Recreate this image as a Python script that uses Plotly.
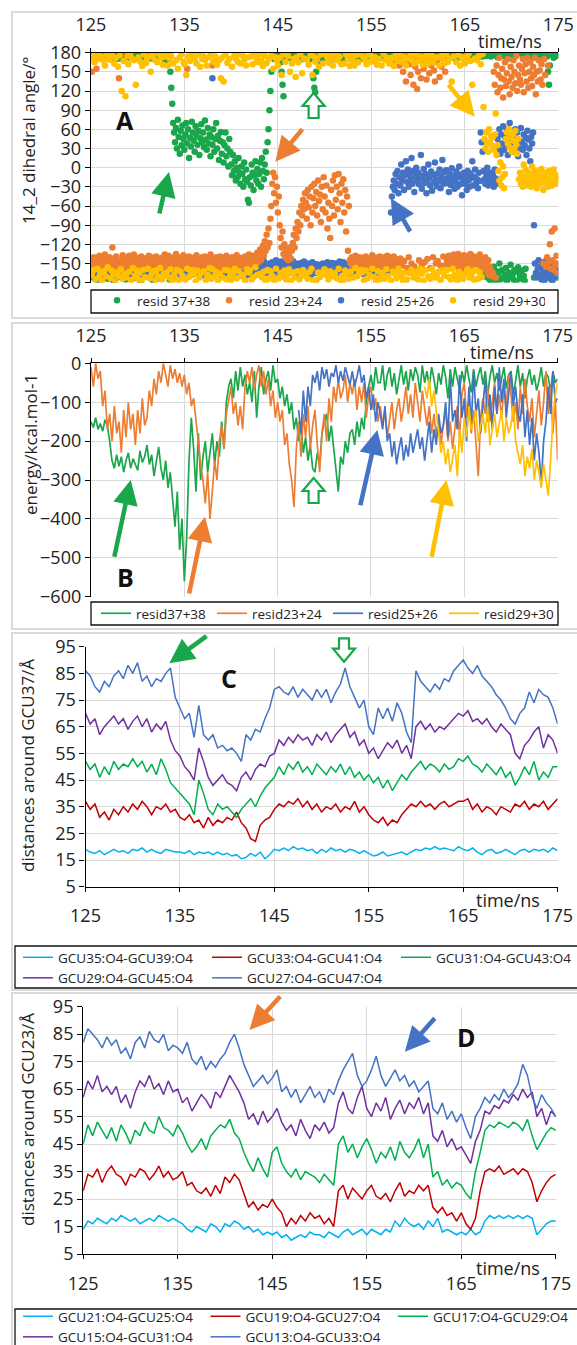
import plotly.graph_objects as go

W, H = 577, 1345
FONT = "Open Sans"
TXT = "#222222"
GRID = "#d9d9d9"

# ---------------- Panel A : 14_2 dihedral angle (deg), one frame every 0.1 ns ----------------
A_T0, A_DT = 125.0, 0.1
A_NAMES = ["resid 37+38", "resid 23+24", "resid 25+26", "resid 29+30"]
A_COLORS = ["#1AA64B", "#ED7D31", "#4472C4", "#FFC000"]

A_RES3738 = [
    175,178,-172,176,170,179,174,-176,177,172,    # 125
    178,173,176,-170,179,175,171,177,-174,178,    # 126
    174,179,176,172,-177,175,178,170,176,179,     # 127
    177,171,-168,178,174,176,179,-175,173,177,    # 128
    176,178,172,175,179,-173,177,171,178,174,     # 129
    179,175,177,-178,172,176,178,174,-171,177,    # 130
    173,177,179,175,171,178,-176,174,177,172,     # 131
    178,174,176,179,-174,173,177,175,178,165,     # 132
    176,172,178,170,-175,150,125,100,70,55,       # 133
    40,62,30,75,48,22,58,35,66,45,                # 134
    28,52,70,38,60,15,47,33,72,55,                # 135
    42,25,65,50,36,58,20,46,68,40,                # 136
    55,32,74,44,28,62,38,52,18,48,                # 137
    36,60,25,45,70,30,50,12,42,56,                # 138
    22,40,8,35,55,18,30,2,45,25,                  # 139
    5,-12,20,-5,10,-20,0,-15,15,-8,               # 140
    -25,2,-10,-30,8,-18,-3,-22,-50,-55,           # 141
    -15,-28,5,-8,-35,-12,10,-20,-2,-25,           # 142
    -10,8,-30,15,-5,-18,5,25,-8,40,               # 143
    60,90,120,150,172,176,170,178,175,179,        # 144
    177,174,178,165,150,130,112,176,173,177,      # 145
    178,175,179,172,176,177,174,178,171,176,      # 146
    179,173,177,175,178,172,176,170,179,174,      # 147
    176,178,172,177,175,170,179,174,140,125,      # 148
    118,150,177,172,178,175,173,179,176,171,      # 149
    177,174,179,172,176,178,173,175,179,170,      # 150
    175,179,173,177,171,178,176,174,172,179,      # 151
    178,172,176,179,174,177,170,175,178,173,      # 152
    174,177,171,178,175,173,179,176,172,177,      # 153
    176,170,178,174,179,172,177,175,173,178,      # 154
    179,175,173,177,172,176,178,171,179,174,      # 155
    172,178,176,174,179,173,175,177,170,178,      # 156
    177,173,179,175,172,178,174,176,179,171,      # 157
    175,178,172,177,174,179,176,173,178,175,      # 158
    173,176,179,171,177,174,178,172,175,179,      # 159
    178,174,176,179,173,177,171,178,174,176,      # 160
    176,179,173,175,178,172,177,174,179,173,      # 161
    174,177,178,173,176,179,175,171,177,178,      # 162
    179,172,175,178,174,176,173,179,172,175,      # 163
    177,175,179,172,178,174,176,177,173,179,      # 164
    173,178,176,174,179,175,172,178,176,171,      # 165
    178,174,177,179,173,176,178,175,179,174,      # 166
    176,179,-165,175,-172,178,-158,-176,174,-168, # 167
    -170,-155,177,-178,-162,173,-166,-150,-175,178, # 168
    -160,-173,175,-168,-157,-177,176,-164,-171,-152, # 169
    177,-167,-175,-160,174,-178,-163,-156,179,-170, # 170
    -174,-161,176,-169,-177,-158,175,172,178,176, # 171
    174,179,173,177,-172,178,175,176,179,173,     # 172
    176,-168,178,172,-175,177,-162,179,174,150,   # 173
    130,160,-170,-176,177,172,-165,178,175,-172,  # 174
    176,                                          # 175
]

A_RES2324 = [
    -145,150,-152,-140,-158,-148,155,-143,-150,-138,  # 125
    -155,-147,-160,-142,-150,-136,-153,-145,-157,-149, # 126
    -140,-152,-146,-125,-158,-143,-150,-139,-155,-147, # 127
    140,-151,-144,-160,-137,-148,-153,-141,-156,-146,  # 128
    -150,-138,-157,-145,-149,-152,-136,-143,-159,-148, # 129
    -153,-141,-147,-158,-139,-150,-145,-156,-142,-151, # 130
    -146,-155,-138,-149,-152,-144,-160,-140,-148,-154, # 131
    -139,-150,-157,-143,-147,-153,-141,-158,-145,-136, # 132
    -152,-144,-149,-138,-156,-147,-142,-151,-159,-140, # 133
    -148,-135,-153,-146,-140,-157,-149,-143,-150,-137, # 134
    -155,-142,-147,155,-151,-139,-158,-145,-144,-152,  # 135
    -141,-156,-150,-137,-148,-153,-143,-159,-146,-140, # 136
    -154,-145,-139,-152,-147,-158,-142,-149,-136,-151, # 137
    160,-143,-155,-148,-140,-152,-146,-157,-139,-150,  # 138
    -147,-153,-141,-149,-156,-138,-151,-144,-158,-145, # 139
    -152,-140,-148,-155,-143,-150,-137,-153,-146,-141, # 140
    -149,-156,-142,-147,-151,-139,-154,-145,-148,-136, # 141
    -143,-150,-155,-138,-147,-152,-140,-145,-133,-148, # 142
    -140,-128,-145,-135,-122,-138,-115,-130,-105,-125, # 143
    -95,-118,-80,-60,-25,-8,-40,-15,-55,-30,           # 144
    -70,-45,-90,-110,-125,-100,-135,-120,-140,-128,    # 145
    -132,-145,-138,-125,-142,-130,-118,-105,-125,-95,  # 146
    -110,-85,-100,-70,-90,-60,-75,-50,-65,-40,         # 147
    -55,-80,-35,-62,-45,-90,-30,-70,-48,-25,           # 148
    -60,-38,-75,-20,-52,-42,-85,-30,-65,-15,           # 149
    -45,-70,-28,-95,-55,-80,-110,-35,-60,-20,          # 150
    -75,-12,-50,-30,-65,-10,-40,-85,-25,-55,           # 151
    -18,-70,-35,-100,-45,-130,-60,-145,-150,-140,      # 152
    -155,-143,-150,-138,-157,-146,-152,-140,-148,-156, # 153
    -141,-153,-147,-160,-139,-150,-145,-157,-142,-151, # 154
    -148,-137,-155,-144,-150,-158,-141,-147,-153,-139, # 155
    -152,-146,-140,-157,-143,-149,-155,-138,-150,-145, # 156
    -140,-154,-147,-151,-139,165,-156,-144,172,-149,   # 157
    160,-142,170,-153,150,-146,175,135,-157,168,       # 158
    -140,162,145,-150,175,130,-155,158,170,123,        # 159
    150,-145,168,140,-152,172,155,-148,163,138,        # 160
    -143,170,148,-157,160,176,-140,152,135,-150,       # 161
    165,-146,172,142,-153,158,175,-139,168,150,        # 162
    -152,-145,-158,-138,-149,-156,-142,-151,-136,-147, # 163
    -141,-155,-148,-135,-152,-144,-159,-140,-150,-137, # 164
    -156,-143,-149,-138,-153,-147,-135,-160,-144,-150, # 165
    -139,-152,-146,-157,-141,-148,-136,-155,-143,-150, # 166
    -147,-158,-140,-152,-163,-145,-168,-155,-160,-170, # 167
    -165,150,130,-172,160,118,145,172,125,140,         # 168
    155,110,138,165,128,148,170,135,115,158,           # 169
    142,125,168,150,132,175,120,145,160,138,           # 170
    130,155,170,118,148,162,135,172,125,150,           # 171
    165,140,128,158,145,172,115,150,135,168,           # 172
    152,138,162,130,-150,170,145,-155,-140,160,        # 173
    -148,-120,-158,-100,-145,-160,-95,-152,-138,-165,  # 174
    -150,                                              # 175
]

A_RES2526 = [
    -160,-152,-168,-148,-157,175,-163,-150,-171,-155,  # 125
    -149,-162,-156,-170,-145,-158,-166,-151,-164,-147, # 126
    -165,-153,-159,-146,-168,-155,-161,-150,-172,-157, # 127
    -151,-166,-148,-160,-154,-169,-145,-162,-156,-150, # 128
    -163,-157,-150,-167,-147,-158,-164,-152,-160,-145, # 129
    -155,-169,-153,-146,-162,-150,-166,-158,-148,-161, # 130
    -159,-147,-164,-154,-170,-149,-157,-163,-151,-167, # 131
    -146,-160,-152,-168,-156,-145,-162,-155,-150,-165, # 132
    -167,-154,-148,-161,-157,-169,-150,-164,-146,-158, # 133
    -152,-163,-170,-149,-159,-155,-166,-147,-160,-153, # 134
    -161,-150,-157,-165,-145,-162,-154,-168,-151,-156, # 135
    -148,-166,-159,-152,-163,-157,-146,-160,-169,-150, # 136
    -164,-153,-147,-158,-150,-167,-161,-155,-148,-162, # 137
    140,-158,-165,-151,-160,-147,-156,-163,-149,-168,  # 138
    -155,-162,-150,-166,-153,-145,-159,-152,-164,-157, # 139
    -150,-167,-156,-148,-161,-154,-169,-146,-158,-163, # 140
    -166,-149,-160,-157,-146,-163,-151,-159,-168,-153, # 141
    -157,-164,-152,-170,-155,-148,-162,-150,-156,-161, # 142
    -149,-158,-167,-151,-162,-146,-157,-165,-153,-160, # 143
    -163,-150,-155,-160,-148,-166,-152,-158,-145,-162, # 144
    -154,-161,-168,-147,-156,-163,-150,-159,-165,-151, # 145
    -162,-148,-157,-164,-152,-158,-146,-161,-155,-167, # 146
    -150,-165,-153,-158,-169,-149,-160,-156,-147,-163, # 147
    -158,-152,-164,-150,-161,-155,-167,-148,-159,-153, # 148
    -165,-157,-151,-162,-154,165,-158,-166,-150,-160,  # 149
    -153,-163,-159,-148,-166,-152,-157,-161,-149,-164, # 150
    -160,-150,-167,-155,-158,-163,-147,-156,-162,-151, # 151
    -148,-161,-154,-165,-151,-157,-160,-149,-168,-155, # 152
    -163,-156,-150,-158,-164,-147,-155,-162,-153,-159, # 153
    -151,-166,-157,-149,-160,-154,-167,-150,-158,-163, # 154
    -158,-150,-163,-156,-147,-161,-152,-165,-155,-149, # 155
    -162,-155,-148,-164,-153,-159,-150,-157,-166,-152, # 156
    -150,-70,-45,-30,-20,-35,-10,-25,-5,-40,           # 157
    -15,-28,5,-20,-8,-35,-12,10,-22,-3,                # 158
    -30,-10,-18,15,-25,-5,-38,-14,0,-20,               # 159
    -8,-26,-12,20,-33,-17,-2,-24,-10,-40,              # 160
    -20,5,-15,-28,-6,-36,-11,-22,8,-18,                # 161
    -29,-9,-21,-3,-32,-14,12,-25,-7,-19,               # 162
    -4,-24,-16,-38,-10,-27,-1,-20,-13,-33,             # 163
    -22,-6,-30,-15,2,-26,-11,-43,-18,-8,               # 164
    -25,-12,-35,-5,-20,-30,-9,-16,10,-28,              # 165
    -14,-3,-24,-18,-32,-8,-21,55,40,25,                # 166
    -5,-18,-25,-10,0,-28,-15,-22,-8,-20,               # 167
    -12,-30,-3,-17,-25,45,30,60,22,52,                 # 168
    38,65,28,48,35,58,20,42,70,33,                     # 169
    50,25,45,38,60,32,55,18,42,30,                     # 170
    62,40,28,52,35,47,20,58,44,30,                     # 171
    10,48,38,55,-90,-150,-165,-172,-158,-145,          # 172
    -168,-155,-175,-150,-162,-178,-147,-170,-158,-165, # 173
    -152,-173,-160,-148,-176,-157,-166,-150,-170,-162, # 174
    -160,                                              # 175
]

A_RES2930 = [
    172,-168,176,-160,165,-175,170,-158,178,-171,   # 125
    -165,174,-177,168,-162,160,-170,177,-156,171,   # 126
    169,-173,-161,175,-168,163,-178,172,-164,158,   # 127
    -170,176,-159,120,-174,167,-166,112,-172,175,   # 128
    162,-163,178,-176,171,-157,168,-169,130,-161,   # 129
    -174,173,-165,166,-178,159,-160,177,-171,164,   # 130
    170,-158,174,-173,150,-167,176,-162,169,-176,   # 131
    -161,165,-170,178,-157,172,-175,161,-166,174,   # 132
    177,-164,160,-172,171,-159,175,-177,163,-168,   # 133
    -173,168,-160,155,-176,173,-163,178,-169,166,   # 134
    162,-175,145,-158,174,-171,167,-164,176,-160,   # 135
    -167,171,-178,163,-161,177,-172,158,-165,170,   # 136
    175,-162,169,-176,160,-168,173,-157,178,-174,   # 137
    -159,166,-170,174,-163,161,-177,168,-166,140,   # 138
    172,-172,135,-160,177,-175,164,-161,170,-169,   # 139
    -176,158,-165,175,-158,171,-173,166,-162,178,   # 140
    163,-170,176,-167,169,-177,160,-159,173,-164,   # 141
    -161,174,-175,162,-171,178,-156,170,-168,165,   # 142
    177,-166,167,-172,159,-163,175,-178,164,-160,   # 143
    -174,171,-162,176,-169,155,-176,173,-158,168,   # 144
    160,-173,172,-165,145,-170,177,-161,166,-175,   # 145
    -167,175,-159,150,-177,163,-164,170,-172,142,   # 146
    173,-162,165,-175,178,-168,148,-160,171,-166,   # 147
    -170,169,-174,161,-163,176,-158,145,-177,174,   # 148
    166,-176,170,-164,158,-171,177,-167,163,-161,   # 149
    -159,178,-168,172,-175,164,-162,175,-170,160,   # 150
    171,-165,176,-173,168,-158,174,-176,162,-169,   # 151
    -177,163,-161,177,-166,170,-174,159,-163,175,   # 152
    168,-172,160,-157,176,-170,165,-165,178,-160,   # 153
    -164,174,-176,169,-161,162,-173,177,-168,166,   # 154
    175,-158,167,-171,173,-177,161,-162,170,-175,   # 155
    -171,160,-165,178,-174,168,-159,172,-170,163,   # 156
    164,-177,172,-163,159,-166,176,-173,167,-158,   # 157
    -162,176,-170,165,-178,173,-164,160,-175,171,   # 158
    170,-165,178,-160,168,-172,163,-169,177,-163,   # 159
    -175,167,-158,174,-166,161,-177,171,-160,176,   # 160
    162,-170,169,-174,177,-159,165,-166,172,-172,   # 161
    -168,173,-163,160,-176,175,-161,168,-169,164,   # 162
    178,-160,166,-171,171,-175,135,-158,174,-167,   # 163
    -172,165,-177,176,-163,160,-168,173,-174,169,   # 164
    163,-166,174,-159,178,-172,167,-170,130,-162,   # 165
    -176,171,-160,168,-174,175,-164,162,-171,178,   # 166
    95,45,30,55,38,25,60,40,50,35,                  # 167
    48,28,52,85,20,35,-5,-20,8,-28,                 # 168
    -15,2,-32,-10,45,55,38,60,32,48,                # 169
    25,52,42,30,58,36,22,45,-18,-8,                 # 170
    -25,-12,-30,5,-20,-3,-15,-28,-8,-22,            # 171
    -10,-30,2,-18,-25,-5,-14,-32,-20,-6,            # 172
    -26,-12,-2,-20,-35,-15,-24,-8,-18,-30,          # 173
    -5,-22,-14,-28,-10,-3,-20,-25,-12,-18,          # 174
    -15,                                            # 175
]
A_SERIES = [A_RES3738, A_RES2324, A_RES2526, A_RES2930]
A_DRAW_ORDER = [0, 2, 1, 3]          # blue drawn under orange, yellow on top
A_YTICKS = [-180, -150, -120, -90, -60, -30, 0, 30, 60, 90, 120, 150, 180]

# ---------------- Panel B : interaction energy (kcal/mol), every 0.25 ns ----------------
B_DT = 0.25
B_NAMES = ["resid37+38", "resid23+24", "resid25+26", "resid29+30"]
B_COLORS = ["#1AA64B", "#ED7D31", "#4472C4", "#FFC000"]
B_STARTS = [125.0, 125.0, 147.25, 160.75]

B_RES3738 = [
    -150,-165,-140,-170, -155,-175,-145,-160, -200,-250,-270,-235, -265,-240,-280,-250,   # 125-128
    -230,-270,-245,-260, -275,-225,-255,-240, -210,-260,-235,-290, -250,-215,-270,-300,   # 129-132
    -250,-320,-280,-350, -420,-330,-480,-400, -560,-450,-250,-140, -220,-330,-180,-300,   # 133-136
    -240,-200,-280,-230, -180,-260,-200,-240, -150,-220,-100,-60,  -40,-90,-20,-70,       # 137-140
    -10,-60,-30,-80,     -50,-100,-20,-140,   -60,-10,-80,-40,     -20,-70,-5,-50,        # 141-144
    -40,-90,-60,-110,    -80,-130,-100,-170,  -140,-200,-160,-230, -190,-250,-210,-270,   # 145-148
    -280,-230,-260,-180, -150,-130,-200,-160, -220,-280,-330,-240, -260,-200,-230,-180,   # 149-152
    -170,-210,-150,-190, -140,-170,-100,-60,  -30,-70,-10,-50,     -50,-5,-70,-30,        # 153-156
    -10,-60,-25,-80,     -40,-5,-55,-20,      -70,-15,-45,-10,     -30,-75,-5,-50,        # 157-160
    -20,-60,-10,-40,     -80,-25,-55,-5,      -35,-90,-15,-60,     -10,-45,-70,-20,       # 161-164
    -50,-5,-40,-75,      -15,-60,-30,-10,     -55,-20,-85,-35,     -5,-50,-25,-70,        # 165-168
    -40,-10,-65,-30,     -20,-80,-45,-5,      -60,-25,-90,-40,     -15,-55,-30,-70,       # 169-172
    -45,-10,-60,-25,     -35,-75,-20,-50,     -40,                                        # 173-175
]
B_RES2324 = [
    -10,-60,0,-40,       -20,-110,-70,-170,   -130,-200,-110,-180, -150,-230,-120,-190,   # 125-128
    -100,-170,-130,-210, -120,-180,-90,-160,  -140,-70,-110,-40,   -80,-20,-50,0,         # 129-132
    -30,-60,-5,-40,      -15,-50,-25,-60,     -30,-80,-50,-110,    -90,-150,-200,-260,    # 133-136
    -300,-360,-280,-400, -330,-250,-300,-200, -160,-220,-130,-90,  -60,-130,-100,-160,    # 137-140
    -110,-170,-60,-20,   -50,-10,-70,-30,     -5,-60,-20,-80,      -40,-110,-70,-140,     # 141-144
    -100,-150,-120,-210, -180,-260,-300,-370, -220,-150,-240,-130, -190,-110,-220,-160,   # 145-148
    -120,-210,-280,-180, -130,-200,-90,-150,  -60,-100,-40,-90,    -70,-30,-100,-50,      # 149-152
    -80,-40,-120,-60,    -100,-50,-140,-80,   -60,-120,-90,-150,   -110,-160,-120,-190,   # 153-156
    -140,-100,-170,-120, -90,-150,-110,-60,   -130,-80,-140,-50,   -100,-150,-70,-120,    # 157-160
    -160,-110,-180,-130, -190,-140,-210,-160, -120,-200,-150,-220, -170,-110,-190,-80,    # 161-164
    -50,-140,-100,-180,  -120,-200,-290,-140, -90,-130,-60,-150,   -100,-50,-130,-80,     # 165-168
    -140,-60,-110,-30,   -80,-150,-100,-170,  -60,-130,-40,-110,   -150,-90,-190,-120,    # 169-172
    -70,-160,-100,-20,   -130,-60,-180,-90,   -250,                                       # 173-175
]
B_RES2526 = [
    -120,-180,-70,                                                                        # 147.25-147.75
    -150,-60,-110,-30,   -50,-20,-70,-10,     -40,-15,-60,-25,     -35,-5,-50,-20,        # 148-151
    -45,-10,-30,-55,     -20,-60,-35,-5,      -50,-30,-90,-60,     -120,-80,-150,-100,    # 152-155
    -130,-170,-110,-200, -180,-240,-200,-260, -220,-190,-250,-210, -240,-180,-230,-200,   # 156-159
    -170,-220,-190,-250, -200,-150,-230,-170, -210,-130,-180,-160, -100,-190,-40,-150,    # 160-163
    -120,-170,-30,-140,  -90,-200,-60,-160,   -20,-130,-90,-180,   -110,-40,-150,-80,     # 164-167
    -170,-60,-130,-10,   -100,-40,-140,-70,   -20,-110,-60,-130,   -150,-80,-190,-120,    # 168-171
    -210,-140,-250,-180, -230,-310,-200,-150, -60,-130,-20,-100,   -90,                   # 172-175
]
B_RES2930 = [
    -60,                                                                                  # 160.75
    -90,-40,-110,-70,    -130,-180,-230,-200, -260,-220,-280,-240, -210,-290,-170,-230,   # 161-164
    -140,-190,-110,-170, -150,-120,-200,-160, -130,-180,-110,-210, -170,-130,-190,-150,   # 165-168
    -120,-200,-140,-180, -160,-110,-200,-230, -260,-210,-290,-240, -270,-220,-300,-250,   # 169-172
    -280,-320,-260,-300, -340,-250,-140,-80,  -50,                                        # 173-175
]
B_SERIES = [B_RES3738, B_RES2324, B_RES2526, B_RES2930]
B_YTICKS = [-600, -500, -400, -300, -200, -100, 0]

# ---------------- Panels C, D : O4-O4 distances (Å), every 0.5 ns ----------------
CD_T0, CD_DT = 125.0, 0.5
CD_COLORS = ["#00B0F0", "#C00000", "#00B050", "#7030A0", "#4472C4"]
CD_YTICKS = [5, 15, 25, 35, 45, 55, 65, 75, 85, 95]
X_TICKS = [125, 135, 145, 155, 165, 175]

C_NAMES = ["GCU35:O4-GCU39:O4", "GCU33:O4-GCU41:O4", "GCU31:O4-GCU43:O4",
           "GCU29:O4-GCU45:O4", "GCU27:O4-GCU47:O4"]
C_GCU35_39 = [19,18,17.5,18.5,17,18,19,18,18.5,17.5, 19,18.5,19.5,18,19,18,17.5,19,18.5,18,
              18,17.5,18.5,17,18,17.5,18,17,18,17, 17.5,16.5,17,15.5,16,17.5,16.5,18,15.5,17,
              19,18.5,19.5,18.5,20,19,19.5,18.5,19,17.5, 19,18,19.5,18.5,19,18,19,18.5,17.5,18.5,
              17.5,16.5,17,18,16.5,17,17.5,18,17,18, 19,18.5,19.5,19,20,19,19.5,19,18.5,20,
              19,18.5,19.5,18,17,18.5,19,17.5,18,19, 18,17,18.5,19,18,19,18.5,19,18,19.5, 18.5]
C_GCU33_41 = [37,34,36,31,33,30,34,32,35,33, 36,34,37,35,32,35,34,36,33,34,
              31,30,32,29,30,27,31,28,30,29, 31,30,33,29,27,23,22,28,30,31,
              34,36,35,37,36,38,35,37,34,36, 33,35,34,36,33,35,34,37,33,35,
              32,30,29,31,28,30,29,32,34,36, 35,37,35,36,34,36,37,35,36,37,
              37,38,34,36,33,35,34,32,35,34, 33,36,35,37,34,36,35,37,34,36, 38]
C_GCU31_43 = [52,49,51,46,50,47,52,49,51,50, 53,50,52,48,51,47,53,49,44,42,
              40,38,36,32,45,40,34,32,36,34, 35,33,31,34,36,38,35,39,42,44,
              46,50,47,51,49,52,48,50,47,51, 49,47,50,48,51,47,50,46,48,45,
              47,44,46,42,45,41,44,47,45,48, 50,52,49,51,50,48,51,49,50,53,
              52,54,51,50,48,51,49,47,50,46, 48,43,46,50,47,52,45,48,46,50, 50]
C_GCU29_45 = [70,66,68,62,65,67,69,66,68,64, 67,69,65,68,63,66,64,67,60,56,
              54,50,48,45,57,52,46,43,45,47, 44,43,41,46,48,45,49,51,50,54,
              55,60,58,61,59,62,60,61,58,62, 60,63,59,62,64,66,61,63,58,60,
              55,57,53,56,59,57,60,55,58,53, 65,67,64,66,63,65,64,66,68,70,
              69,71,67,68,66,68,65,63,66,64, 62,55,53,58,60,63,65,57,62,60, 55]
C_GCU27_47 = [86,84,80,78,82,80,84,86,83,88, 85,89,82,84,80,83,82,85,87,76,
              72,68,70,61,73,62,60,62,57,58, 56,57,55,52,62,60,64,63,68,72,
              79,80,78,77,80,76,79,77,75,79, 76,79,74,78,81,87,80,76,72,75,
              65,62,72,68,72,67,74,70,63,59, 86,82,80,78,81,79,83,82,86,88,
              90,87,85,88,84,82,80,77,75,72, 68,66,70,72,78,74,79,77,76,72, 66]
C_SERIES = [C_GCU35_39, C_GCU33_41, C_GCU31_43, C_GCU29_45, C_GCU27_47]

D_NAMES = ["GCU21:O4-GCU25:O4", "GCU19:O4-GCU27:O4", "GCU17:O4-GCU29:O4",
           "GCU15:O4-GCU31:O4", "GCU13:O4-GCU33:O4"]
D_GCU21_25 = [14,17,16,18,17,16,18,17,19,18, 17,18,16,17,18,17,19,18,17,18,
              17,16,14,13,15,14,13,16,15,13, 16,15,17,16,14,15,13,14,12,13,
              12,13,11,12,10,11,12,11,13,12, 12,11,13,12,11,13,14,12,13,14,
              12,14,13,12,14,13,17,15,18,16, 15,16,14,17,15,18,13,14,13,12,
              13,12,14,12,13,17,19,18,19,18, 19,18,19,18,19,18,12,14,16,17, 17]
D_GCU19_27 = [28,34,33,36,31,35,37,34,33,30, 34,33,36,35,32,34,37,33,35,32,
              33,35,30,31,28,27,29,26,30,27, 33,31,34,32,27,22,24,21,23,22,
              25,22,20,15,18,16,19,17,20,18, 19,16,18,15,28,30,25,29,27,25,
              28,30,26,25,27,24,28,31,26,28, 27,30,28,30,22,20,22,19,20,17,
              20,16,14,18,28,35,36,35,37,34, 35,36,34,36,35,31,24,28,31,33, 34]
D_GCU17_29 = [45,52,48,53,50,47,51,46,52,49, 45,50,48,53,50,49,55,51,50,48,
              52,49,45,42,44,47,43,48,50,52, 51,54,49,47,42,38,35,40,36,33,
              42,44,38,35,33,36,32,35,34,33, 31,34,32,30,45,48,42,45,40,44,
              47,43,38,42,40,44,39,46,42,40, 43,47,40,45,33,35,30,32,29,31,
              30,27,25,35,42,50,52,51,53,52, 51,53,52,50,54,48,43,46,49,51, 50]
D_GCU15_31 = [62,68,65,70,64,66,63,66,60,63, 58,64,68,66,70,65,67,63,68,64,
              65,60,62,57,60,63,61,58,64,62, 66,70,67,64,60,54,56,52,57,53,
              55,58,53,50,52,48,54,50,47,52, 50,53,49,51,60,64,58,56,62,66,
              58,55,60,57,62,54,58,61,56,60, 58,62,56,60,48,46,50,44,47,43,
              44,41,38,46,50,57,56,59,58,61, 60,63,61,65,62,64,55,58,52,57, 55]
D_GCU13_33 = [82,87,85,83,80,84,81,83,78,80, 76,82,84,80,86,83,82,85,79,81,
              80,78,82,76,74,77,72,75,73,76, 78,82,85,80,74,70,66,68,70,67,
              69,72,64,66,62,65,60,63,66,62, 64,60,65,63,68,72,75,78,70,66,
              68,72,77,70,66,69,72,68,70,66, 68,64,66,68,58,56,60,54,57,53,
              56,51,47,55,58,62,60,63,61,65, 62,64,67,74,70,62,58,63,60,58, 55]
D_SERIES = [D_GCU21_25, D_GCU19_27, D_GCU17_29, D_GCU15_31, D_GCU13_33]


def times(t0, dt, n):
    return [round(t0 + dt * i, 3) for i in range(n)]


def px(x):
    return x / W


def py(y):
    return 1 - y / H


fig = go.Figure()

for i in A_DRAW_ORDER:
    vals = A_SERIES[i]
    fig.add_trace(go.Scatter(x=times(A_T0, A_DT, len(vals)), y=vals, mode="markers", name=A_NAMES[i],
                             marker=dict(size=6.5, color=A_COLORS[i], line=dict(width=0)),
                             xaxis="x", yaxis="y", legend="legend", legendrank=i + 1, showlegend=True))
for name, col, t0, vals in zip(B_NAMES, B_COLORS, B_STARTS, B_SERIES):
    fig.add_trace(go.Scatter(x=times(t0, B_DT, len(vals)), y=vals, mode="lines", name=name,
                             line=dict(width=1.7, color=col), xaxis="x2", yaxis="y2", legend="legend2"))
for name, col, vals in zip(C_NAMES, CD_COLORS, C_SERIES):
    fig.add_trace(go.Scatter(x=times(CD_T0, CD_DT, len(vals)), y=vals, mode="lines", name=name,
                             line=dict(width=1.5, color=col), xaxis="x3", yaxis="y3", legend="legend3"))
for name, col, vals in zip(D_NAMES, CD_COLORS, D_SERIES):
    fig.add_trace(go.Scatter(x=times(CD_T0, CD_DT, len(vals)), y=vals, mode="lines", name=name,
                             line=dict(width=1.5, color=col), xaxis="x4", yaxis="y4", legend="legend4"))

TICKFONT = dict(family=FONT, size=18, color=TXT)
# plot-area boxes in pixels: x0, x1, ytop, ybottom
BOX = {1: (90.9, 558.3, 52.7, 282.7), 2: (91.0, 557.6, 363.3, 596.7),
       3: (85.5, 557.6, 646.7, 886.7), 4: (83.2, 555.8, 1006.7, 1254.0)}
YR = {1: [-180, 180], 2: [-600, 0], 3: [5, 95], 4: [5, 95]}
YT = {1: A_YTICKS, 2: B_YTICKS, 3: CD_YTICKS, 4: CD_YTICKS}

layout_axes = {}
for k in (1, 2, 3, 4):
    x0, x1, yt, yb = BOX[k]
    sfx = "" if k == 1 else str(k)
    layout_axes["xaxis" + sfx] = dict(
        domain=[px(x0), px(x1)], range=[125, 175], tickvals=X_TICKS, anchor="y" + sfx,
        side="top" if k <= 2 else "bottom", showgrid=True, gridcolor=GRID, gridwidth=1,
        showline=True, linecolor="black", linewidth=1.3, ticks="outside", ticklen=4,
        tickcolor="black", tickfont=TICKFONT, zeroline=False, ticklabelstandoff=9)
    layout_axes["yaxis" + sfx] = dict(
        domain=[py(yb), py(yt)], range=YR[k], tickvals=YT[k], anchor="x" + sfx,
        showgrid=True, gridcolor=GRID, gridwidth=1, showline=True, linecolor="black",
        linewidth=1.3, ticks="outside", ticklen=5, tickcolor="black", tickfont=TICKFONT,
        zeroline=False)

shapes = []
# light grey frames around each chart
for (x0, y0, x1, y1) in [(12, 12, 590, 318), (12, 323, 590, 629), (12, 633, 590, 990), (12, 993, 590, 1360)]:
    shapes.append(dict(type="rect", xref="paper", yref="paper", x0=px(x0), x1=px(x1), y0=py(y1), y1=py(y0),
                       line=dict(color="#d0d0d0", width=1.5), layer="below"))
# legend boxes
for (x0, y0, x1, y1) in [(91, 290, 558, 313), (91, 602, 558, 625), (15, 946, 590, 988), (15, 1309, 590, 1360)]:
    shapes.append(dict(type="rect", xref="paper", yref="paper", x0=px(x0), x1=px(x1), y0=py(y1), y1=py(y0),
                       line=dict(color="#111111", width=1.3)))


def hollow(cx, ytip, ybase, color):
    hw, hh, sw = 11, 13, 5
    d = 1 if ybase > ytip else -1
    pts = [(cx - sw, ybase), (cx + sw, ybase), (cx + sw, ytip + d * hh), (cx + hw, ytip + d * hh),
           (cx, ytip), (cx - hw, ytip + d * hh), (cx - sw, ytip + d * hh)]
    path = "M " + " L ".join(f"{px(a):.5f},{py(b):.5f}" for a, b in pts) + " Z"
    return dict(type="path", xref="paper", yref="paper", path=path, line=dict(color=color, width=2.2),
                fillcolor="white")


shapes.append(hollow(313.6, 93, 118, "#1AA64B"))
shapes.append(hollow(313.6, 478, 503, "#1AA64B"))
shapes.append(hollow(344, 661.7, 638.3, "#1AA64B"))

annotations = []
# solid arrows: (tail x, tail y, head x, head y, colour)
ARROWS = [(159, 215, 169, 172, "#1AA64B"), (303.6, 127.7, 275.3, 161.7, "#ED7D31"),
          (411, 233, 390.9, 198.3, "#4472C4"), (447.2, 83.3, 474.8, 116.7, "#FFC000"),
          (114, 558.3, 130.7, 480, "#1AA64B"), (188.8, 595, 205, 516.7, "#ED7D31"),
          (360, 506.7, 377.3, 430, "#4472C4"), (431.4, 558.3, 446.5, 480, "#FFC000"),
          (208, 635, 169.3, 663.3, "#1AA64B"), (281.6, 995, 249.5, 1030, "#ED7D31"),
          (436.1, 1016.7, 404.9, 1051.7, "#4472C4")]
for tx, ty, hx, hy, c in ARROWS:
    annotations.append(dict(x=px(hx), y=py(hy), xref="paper", yref="paper", ax=tx - hx, ay=ty - hy,
                            axref="pixel", ayref="pixel", showarrow=True, arrowhead=2, arrowsize=1.1,
                            arrowwidth=4.5, arrowcolor=c, text=""))


def label(text, x, y, size, angle=0, color=TXT):
    return dict(x=px(x), y=py(y), xref="paper", yref="paper", text=text, textangle=angle,
                xanchor="center", yanchor="middle", showarrow=False,
                font=dict(family=FONT, size=size, color=color))


for letter, x, y in [("A", 125, 120), ("B", 125, 577), ("C", 229, 678), ("D", 466, 1037)]:
    annotations.append(label(f"<b>{letter}</b>", x, y, 25, color="#111111"))

for x, y in [(510, 41), (502, 352), (508, 900), (508, 1268)]:
    annotations.append(label("time/ns", x, y, 18))

for text, x, y in [("14_2 dihedral angle/°", 28, 140), ("energy/kcal.mol-1", 30, 445),
                   ("distances around GCU37/Å", 27, 766), ("distances around GCU23/Å", 27, 1120)]:
    annotations.append(label(text, x, y, 17, angle=-90))

LEGFONT = dict(family=FONT, size=13.5, color=TXT)


def legend(x, y, entrywidth, yanchor="middle"):
    return dict(orientation="h", x=px(x), y=py(y), xanchor="left", yanchor=yanchor,
                bgcolor="rgba(0,0,0,0)", borderwidth=0, font=LEGFONT, entrywidth=entrywidth,
                entrywidthmode="pixels", itemwidth=30, tracegroupgap=0, traceorder="normal")


fig.update_layout(
    width=W, height=H, autosize=False, margin=dict(l=0, r=0, t=0, b=0, autoexpand=False),
    paper_bgcolor="white", plot_bgcolor="white", font=dict(family=FONT, color=TXT),
    shapes=shapes, annotations=annotations,
    legend=legend(97, 300.5, 67), legend2=legend(96, 613.5, 71),
    legend3=legend(18, 942, 144, "top"), legend4=legend(18, 1301, 142.5, "top"),
    **layout_axes,
)

fig.write_html("out.html", config={"displayModeBar": False},
               post_script="document.body.style.margin='0';document.body.style.overflow='hidden';")
